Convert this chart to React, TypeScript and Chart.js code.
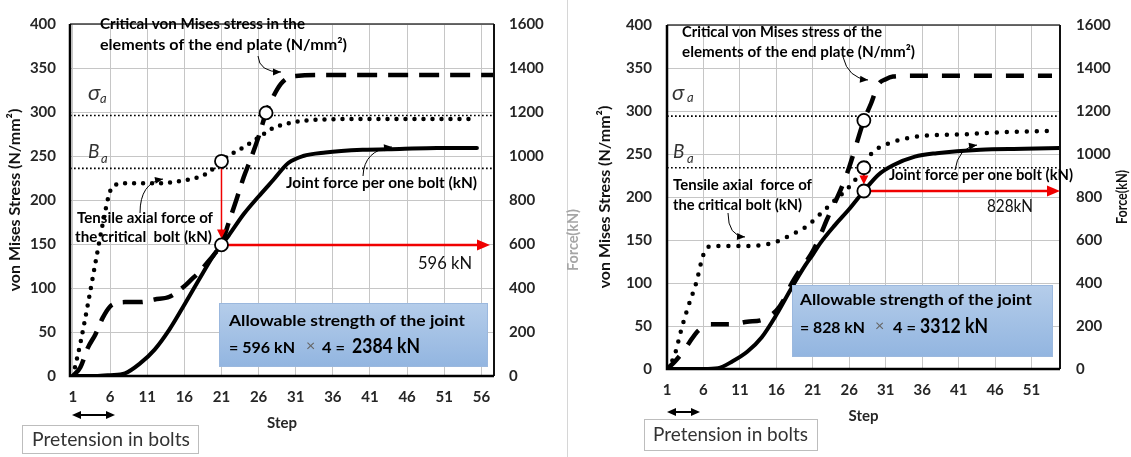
import React, { useEffect, useRef } from 'react';
import { Chart, registerables } from 'chart.js';

Chart.register(...registerables);

const FONT = 'Lato, "Open Sans", sans-serif';

// ---------------- shared axes ----------------
const stressMax = 400;
const stressStep = 50;
const forceMax = 1600;
const forceStep = 200;

// ---------------- LEFT panel data ----------------
const stepTicksL = [1, 6, 11, 16, 21, 26, 31, 36, 41, 46, 51, 56];
// Critical von Mises stress in the elements of the end plate (N/mm2)
const endPlateStepsL = [1, 2, 3, 4, 5, 6, 7, 8, 10, 12, 14, 16, 17, 18, 19, 20, 21, 22, 23, 24, 25, 26, 27, 28, 29, 30, 31, 35, 40, 45, 50, 55, 57.6];
const endPlateStressL = [0, 10, 32, 47, 66, 79, 83, 84, 84, 87, 90, 102, 110, 118, 128, 138, 150, 175, 200, 226, 248, 272, 299, 318, 332, 339, 341, 342, 342, 342, 342, 342, 342];
// Tensile axial force of the critical bolt (kN)
const boltStepsL = [1, 2, 3, 4, 5, 6, 7, 8, 10, 13, 15, 17, 19, 21, 22, 24, 26, 28, 30, 32, 35, 40, 45, 50, 55];
const boltForceL = [0, 150, 325, 510, 690, 840, 872, 876, 876, 876, 884, 896, 920, 976, 1002, 1040, 1084, 1128, 1148, 1160, 1166, 1168, 1168, 1168, 1168];
// Joint force per one bolt (kN)
const jointStepsL = [1, 4, 6, 8, 10, 12, 14, 16, 18, 20, 21, 22, 24, 26, 28, 30, 32, 35, 40, 45, 50, 55.4];
const jointForceL = [0, 0, 4, 12, 56, 120, 212, 324, 440, 552, 596, 640, 736, 816, 892, 968, 1000, 1016, 1028, 1032, 1036, 1036];
const sigmaAL = 296;
const bAL = 236;
const markerStepsL = { endPlate: 27, bolt: 21, joint: 21 };

// ---------------- RIGHT panel data ----------------
const stepTicksR = [1, 6, 11, 16, 21, 26, 31, 36, 41, 46, 51];
const endPlateStepsR = [1, 2, 3, 4, 5, 6, 7, 8, 10, 12, 14, 16, 17, 18, 19, 20, 21, 22, 23, 24, 25, 26, 27, 28, 29, 30, 31, 32, 35, 40, 45, 50, 53.8];
const endPlateStressR = [0, 8, 18, 30, 42, 49, 52, 52, 52, 55, 57, 68, 80, 98, 112, 124, 137, 155, 175, 193, 212, 235, 262, 289, 309, 331, 337, 340, 341, 341, 341, 341, 341];
const boltStepsR = [1, 2, 3, 4, 5, 6, 7, 8, 10, 12, 14, 16, 18, 20, 22, 24, 26, 28, 29, 30, 32, 35, 38, 42, 46, 50, 54];
const boltForceR = [0, 60, 188, 300, 400, 532, 572, 572, 572, 572, 576, 592, 624, 660, 720, 784, 848, 936, 1000, 1028, 1056, 1080, 1088, 1092, 1100, 1104, 1108];
const jointStepsR = [1, 6, 8, 10, 12, 14, 16, 18, 20, 21, 22, 24, 26, 28, 30, 32, 35, 38, 44, 50, 54.9];
const jointForceR = [0, 0, 4, 36, 80, 148, 252, 372, 484, 532, 584, 668, 744, 828, 904, 948, 988, 1004, 1020, 1024, 1028];
const sigmaAR = 294;
const bAR = 234;
const markerStepsR = { endPlate: 28, bolt: 28, joint: 28 };

const pts = (xs: number[], ys: number[]) => xs.map((x, i) => ({ x, y: ys[i] }));

type TextItem = { t: string; x: number; y: number; w?: number; size?: number; bold?: boolean; color?: string; italic?: boolean };

function drawText(ctx: CanvasRenderingContext2D, it: TextItem, baseline: CanvasTextBaseline = 'middle') {
  const size = it.size ?? 15;
  const bold = it.bold ?? true;
  ctx.save();
  ctx.font = `${it.italic ? 'italic ' : ''}${bold ? 'bold ' : ''}${size}px ${FONT}`;
  ctx.fillStyle = it.color ?? '#000';
  ctx.textAlign = 'left';
  ctx.textBaseline = baseline;
  ctx.translate(it.x, it.y);
  if (it.w) {
    const m = ctx.measureText(it.t).width;
    ctx.scale(it.w / m, 1);
  }
  ctx.fillText(it.t, 0, 0);
  ctx.restore();
}

function arrowHead(ctx: CanvasRenderingContext2D, x: number, y: number, ang: number, len: number, hw: number) {
  const c = Math.cos(ang), s = Math.sin(ang);
  ctx.beginPath();
  ctx.moveTo(x, y);
  ctx.lineTo(x - len * c + hw * s, y - len * s - hw * c);
  ctx.lineTo(x - len * c - hw * s, y - len * s + hw * c);
  ctx.closePath();
  ctx.fill();
}

interface Spec {
  width: number;
  xMin: number;
  xMax: number;
  stepTicks: number[];
  endPlate: { x: number; y: number }[];
  bolt: { x: number; y: number }[];
  joint: { x: number; y: number }[];
  sigmaA: number;
  bA: number;
  markers: { endPlate: number; bolt: number; joint: number };
  yAxisW: number;
  y2AxisW: number;
  xAxisH: number;
  stepTitlePad: number;
  yTickPad: number;
  y2TickPad: number;
  dash: number[];
  dot: number[];
  forceTitle: { x: number; y: number; w: number; color: string };
  separatorX?: number;
  texts: TextItem[];
  box: { x: number; y: number; w: number; h: number; line1: TextItem; line2: TextItem[] };
  sigmaLabel: { x: number; y: number; sx: number; sy: number };
  bLabel: { x: number; y: number; sx: number; sy: number };
  curves: { from: number[]; c: number[]; to: number[] }[];
  dbl: { x1: number; x2: number; y: number };
  pre: { x: number; y: number; w: number; h: number; tx: number; ty: number; tw: number };
  hArrowInset: number;
  vArrowWidth: number;
}

function decoPlugin(spec: Spec) {
  return {
    id: 'deco',
    beforeDatasetsDraw(chart: any) {
      const ctx: CanvasRenderingContext2D = chart.ctx;
      ctx.save();
      if (spec.separatorX) {
        ctx.strokeStyle = '#d6d6d6';
        ctx.lineWidth = 1;
        ctx.beginPath();
        ctx.moveTo(spec.separatorX + 0.5, 0);
        ctx.lineTo(spec.separatorX + 0.5, chart.height);
        ctx.stroke();
      }
      ctx.restore();
    },
    afterDatasetsDraw(chart: any) {
      const ctx: CanvasRenderingContext2D = chart.ctx;
      const a = chart.chartArea;
      ctx.save();
      // frame
      ctx.strokeStyle = '#3a3a3a';
      ctx.lineWidth = 1.5;
      ctx.beginPath();
      ctx.moveTo(a.left, a.top);
      ctx.lineTo(a.right, a.top);
      ctx.stroke();
      ctx.strokeStyle = '#111';
      ctx.lineWidth = 2;
      ctx.beginPath();
      ctx.moveTo(a.right, a.top);
      ctx.lineTo(a.right, a.bottom);
      ctx.stroke();
      ctx.strokeStyle = '#000';
      ctx.lineWidth = 2.5;
      ctx.beginPath();
      ctx.moveTo(a.left, a.top);
      ctx.lineTo(a.left, a.bottom);
      ctx.lineTo(a.right, a.bottom);
      ctx.stroke();

      const pos = (dsIdx: number, step: number) => {
        const data = chart.data.datasets[dsIdx].data as { x: number }[];
        const i = data.findIndex((p) => p.x === step);
        const el = chart.getDatasetMeta(dsIdx).data[i];
        return { x: el.x as number, y: el.y as number };
      };
      const pJ = pos(0, spec.markers.joint);
      const pE = pos(1, spec.markers.endPlate);
      const pB = pos(2, spec.markers.bolt);
      const r = 6.5;

      // red arrows
      ctx.strokeStyle = '#f00000';
      ctx.fillStyle = '#f00000';
      ctx.lineWidth = spec.vArrowWidth;
      ctx.beginPath();
      ctx.moveTo(pB.x, pB.y + r);
      ctx.lineTo(pJ.x, pJ.y - r - 6);
      ctx.stroke();
      arrowHead(ctx, pJ.x, pJ.y - r, Math.PI / 2, 9, 4.5);
      ctx.lineWidth = 2.5;
      const tipX = a.right - spec.hArrowInset;
      ctx.beginPath();
      ctx.moveTo(pJ.x + r, pJ.y);
      ctx.lineTo(tipX - 10, pJ.y);
      ctx.stroke();
      arrowHead(ctx, tipX, pJ.y, 0, 13, 5.5);

      // circles
      for (const p of [pJ, pE, pB]) {
        ctx.beginPath();
        ctx.arc(p.x, p.y, r, 0, Math.PI * 2);
        ctx.fillStyle = '#fff';
        ctx.fill();
        ctx.strokeStyle = '#000';
        ctx.lineWidth = 1.8;
        ctx.stroke();
      }

      // σa / Ba labels
      const ital = (t: string, x: number, y: number, size: number) => {
        ctx.font = `italic ${size}px ${FONT}`;
        ctx.fillStyle = '#333';
        ctx.textBaseline = 'alphabetic';
        ctx.textAlign = 'left';
        ctx.fillText(t, x, y);
      };
      ital('σ', spec.sigmaLabel.x, spec.sigmaLabel.y, 22);
      ital('a', spec.sigmaLabel.sx, spec.sigmaLabel.sy, 13);
      ital('B', spec.bLabel.x, spec.bLabel.y, 19);
      ital('a', spec.bLabel.sx, spec.bLabel.sy, 13);

      // annotation texts
      for (const t of spec.texts) drawText(ctx, t);

      // curved leader arrows
      ctx.strokeStyle = '#000';
      ctx.fillStyle = '#000';
      ctx.lineWidth = 1;
      for (const cv of spec.curves) {
        ctx.beginPath();
        ctx.moveTo(cv.from[0], cv.from[1]);
        ctx.quadraticCurveTo(cv.c[0], cv.c[1], cv.to[0], cv.to[1]);
        ctx.stroke();
        const ang = Math.atan2(cv.to[1] - cv.c[1], cv.to[0] - cv.c[0]);
        arrowHead(ctx, cv.to[0], cv.to[1], ang, 8, 3.5);
      }

      // blue box
      const b = spec.box;
      const g = ctx.createLinearGradient(0, b.y, 0, b.y + b.h);
      g.addColorStop(0, '#b5cdea');
      g.addColorStop(1, '#92b5e0');
      ctx.fillStyle = g;
      ctx.fillRect(b.x, b.y, b.w, b.h);
      ctx.strokeStyle = '#9bb8de';
      ctx.lineWidth = 1;
      ctx.strokeRect(b.x + 0.5, b.y + 0.5, b.w - 1, b.h - 1);
      drawText(ctx, b.line1);
      for (const t of b.line2) drawText(ctx, t);

      ctx.restore();
    },
    afterDraw(chart: any) {
      const ctx: CanvasRenderingContext2D = chart.ctx;
      ctx.save();
      // right axis title, reading bottom to top
      const ft = spec.forceTitle;
      ctx.translate(ft.x, ft.y);
      ctx.rotate(-Math.PI / 2);
      ctx.font = `bold 15px ${FONT}`;
      ctx.fillStyle = ft.color;
      ctx.textAlign = 'center';
      ctx.textBaseline = 'middle';
      const m = ctx.measureText('Force(kN)').width;
      ctx.scale(ft.w / m, 1);
      ctx.fillText('Force(kN)', 0, 0);
      ctx.restore();

      ctx.save();
      // double arrow
      const d = spec.dbl;
      ctx.strokeStyle = '#000';
      ctx.fillStyle = '#000';
      ctx.lineWidth = 2;
      ctx.beginPath();
      ctx.moveTo(d.x1 + 6, d.y);
      ctx.lineTo(d.x2 - 6, d.y);
      ctx.stroke();
      arrowHead(ctx, d.x2, d.y, 0, 9, 4);
      arrowHead(ctx, d.x1, d.y, Math.PI, 9, 4);
      // pretension box
      const p = spec.pre;
      ctx.fillStyle = '#fff';
      ctx.fillRect(p.x, p.y, p.w, p.h);
      ctx.strokeStyle = '#bdbdbd';
      ctx.lineWidth = 1;
      ctx.strokeRect(p.x + 0.5, p.y + 0.5, p.w, p.h);
      ctx.restore();
      drawText(ctx, { t: 'Pretension in bolts', x: p.tx, y: p.ty, w: p.tw, size: 19, bold: false, color: '#333' });
    },
  };
}

function buildConfig(spec: Spec): any {
  const tickFont = { family: FONT, size: 15, weight: 'bold' as const };
  const lineBase = { pointRadius: 0, borderColor: '#000', fill: false, cubicInterpolationMode: 'monotone' as const };
  const plain = (v: number) => `${v}`;
  return {
    type: 'line',
    data: {
      datasets: [
        { ...lineBase, label: 'Joint force per one bolt (kN)', data: spec.joint, yAxisID: 'y2', borderWidth: 4, borderCapStyle: 'round' },
        { ...lineBase, label: 'Critical von Mises stress (N/mm²)', data: spec.endPlate, yAxisID: 'y', borderWidth: 4.5, borderDash: spec.dash, borderCapStyle: 'butt' },
        { ...lineBase, label: 'Tensile axial force of the critical bolt (kN)', data: spec.bolt, yAxisID: 'y2', borderWidth: 4.5, borderDash: spec.dot, borderCapStyle: 'round' },
        { ...lineBase, label: 'σa', data: [{ x: spec.xMin, y: spec.sigmaA }, { x: spec.xMax, y: spec.sigmaA }], yAxisID: 'y', borderWidth: 1.7, borderDash: [1.7, 2.3], cubicInterpolationMode: 'default' },
        { ...lineBase, label: 'Ba', data: [{ x: spec.xMin, y: spec.bA }, { x: spec.xMax, y: spec.bA }], yAxisID: 'y', borderWidth: 1.7, borderDash: [1.7, 2.3], cubicInterpolationMode: 'default' },
      ],
    },
    options: {
      animation: false,
      responsive: false,
      maintainAspectRatio: false,
      events: [],
      layout: { padding: { left: 0, right: 0, top: 15, bottom: 0 } },
      plugins: { legend: { display: false }, tooltip: { enabled: false } },
      scales: {
        x: {
          type: 'linear',
          position: 'bottom',
          min: spec.xMin,
          max: spec.xMax,
          afterBuildTicks: (s: any) => {
            s.ticks = spec.stepTicks.map((v) => ({ value: v }));
          },
          afterFit: (s: any) => {
            s.height = spec.xAxisH;
          },
          grid: { color: '#c6c6c6', lineWidth: 1, drawTicks: false },
          border: { display: false },
          ticks: { padding: 12, font: tickFont, color: '#262626', maxRotation: 0, autoSkip: false, callback: plain },
          title: { display: true, text: 'Step', color: '#262626', font: { family: FONT, size: 15, weight: 'bold' }, padding: { top: 0, bottom: spec.stepTitlePad } },
        },
        y: {
          type: 'linear',
          position: 'left',
          min: 0,
          max: stressMax,
          afterFit: (s: any) => {
            s.width = spec.yAxisW;
          },
          grid: { color: '#c6c6c6', lineWidth: 1, drawTicks: false },
          border: { display: false },
          ticks: { stepSize: stressStep, padding: spec.yTickPad, font: tickFont, color: '#262626', callback: plain },
          title: { display: true, text: 'von Mises Stress (N/mm²)', color: '#111', font: { family: FONT, size: 16, weight: 'bold' }, padding: { top: 5, bottom: 0 } },
        },
        y2: {
          type: 'linear',
          position: 'right',
          min: 0,
          max: forceMax,
          afterFit: (s: any) => {
            s.width = spec.y2AxisW;
          },
          grid: { display: false, drawTicks: false },
          border: { display: false },
          ticks: { stepSize: forceStep, padding: spec.y2TickPad, font: tickFont, color: '#262626', callback: plain },
        },
      },
    },
    plugins: [decoPlugin(spec)],
  };
}

const leftSpec: Spec = {
  width: 590,
  xMin: 0.6,
  xMax: 57.7,
  stepTicks: stepTicksL,
  endPlate: pts(endPlateStepsL, endPlateStressL),
  bolt: pts(boltStepsL, boltForceL),
  joint: pts(jointStepsL, jointForceL),
  sigmaA: sigmaAL,
  bA: bAL,
  markers: markerStepsL,
  yAxisW: 70,
  y2AxisW: 96,
  xAxisH: 81,
  stepTitlePad: 25,
  yTickPad: 14,
  y2TickPad: 15,
  dash: [20, 11],
  dot: [0, 9],
  forceTitle: { x: 573, y: 240, w: 62, color: '#a6a6a6' },
  separatorX: 567,
  texts: [
    { t: 'Critical von Mises stress in the', x: 100, y: 24, w: 205 },
    { t: 'elements of the end plate (N/mm²)', x: 100, y: 45, w: 247 },
    { t: 'Tensile axial force of', x: 77, y: 218, w: 136 },
    { t: 'the critical  bolt (kN)', x: 75, y: 237, w: 137 },
    { t: 'Joint force per one bolt (kN)', x: 286, y: 183, w: 191 },
    { t: '596 kN', x: 418, y: 264, w: 54, size: 17, bold: false, color: '#111' },
  ],
  box: {
    x: 219, y: 303, w: 269, h: 64,
    line1: { t: 'Allowable strength of the joint', x: 229, y: 321, w: 236, size: 16 },
    line2: [
      { t: '= 596 kN', x: 229, y: 348, w: 66, size: 16 },
      { t: '×', x: 306, y: 346, size: 16, bold: false, color: '#666' },
      { t: '4 =', x: 322, y: 348, w: 23, size: 16 },
      { t: '2384 kN', x: 352, y: 347, w: 68, size: 20 },
    ],
  },
  sigmaLabel: { x: 88, y: 100, sx: 100, sy: 103 },
  bLabel: { x: 88, y: 158, sx: 101, sy: 163 },
  curves: [
    { from: [258, 56], c: [259, 72], to: [281, 72] },
    { from: [140, 213], c: [140, 183], to: [163, 179] },
    { from: [363, 176], c: [364, 150], to: [392, 147] },
  ],
  dbl: { x1: 72, x2: 115, y: 415 },
  pre: { x: 22, y: 425, w: 176, h: 28, tx: 32, ty: 440, tw: 158 },
  hArrowInset: 4,
  vArrowWidth: 1.5,
};

const rightSpec: Spec = {
  width: 541,
  xMin: 1,
  xMax: 54.9,
  stepTicks: stepTicksR,
  endPlate: pts(endPlateStepsR, endPlateStressR),
  bolt: pts(boltStepsR, boltForceR),
  joint: pts(jointStepsR, jointForceR),
  sigmaA: sigmaAR,
  bA: bAR,
  markers: markerStepsR,
  yAxisW: 77,
  y2AxisW: 71,
  xAxisH: 88,
  stepTitlePad: 32,
  yTickPad: 15,
  y2TickPad: 16,
  dash: [18, 14],
  dot: [0, 10],
  forceTitle: { x: 532, y: 197, w: 54, color: '#111' },
  texts: [
    { t: 'Critical von Mises stress of the', x: 92, y: 32, w: 200 },
    { t: 'elements of the end plate (N/mm²)', x: 92, y: 52, w: 233 },
    { t: 'Tensile axial  force of', x: 83, y: 185, w: 139 },
    { t: 'the critical bolt (kN)', x: 83, y: 205, w: 129 },
    { t: 'Joint force per one bolt (kN)', x: 299, y: 175, w: 184 },
    { t: '828kN', x: 397, y: 207, w: 46, size: 17, bold: false, color: '#111' },
  ],
  box: {
    x: 202, y: 285, w: 261, h: 72,
    line1: { t: 'Allowable strength of the joint', x: 210, y: 300, w: 232, size: 16 },
    line2: [
      { t: '= 828 kN', x: 210, y: 328, w: 65, size: 16 },
      { t: '×', x: 285, y: 326, size: 16, bold: false, color: '#666' },
      { t: '4 =', x: 303, y: 328, w: 23, size: 16 },
      { t: '3312 kN', x: 330, y: 327, w: 68, size: 20 },
    ],
  },
  sigmaLabel: { x: 82, y: 100, sx: 97, sy: 102 },
  bLabel: { x: 83, y: 158, sx: 97, sy: 163 },
  curves: [
    { from: [253, 57], c: [258, 78], to: [278, 80] },
    { from: [138, 213], c: [138, 236], to: [155, 237] },
    { from: [365, 170], c: [368, 148], to: [387, 145] },
  ],
  dbl: { x1: 77, x2: 110, y: 412 },
  pre: { x: 54, y: 419, w: 173, h: 31, tx: 63, ty: 435, tw: 155 },
  hArrowInset: 0,
  vArrowWidth: 2,
};

export default function App() {
  const leftRef = useRef<HTMLCanvasElement>(null);
  const rightRef = useRef<HTMLCanvasElement>(null);
  useEffect(() => {
    const charts = [
      new Chart(leftRef.current as HTMLCanvasElement, buildConfig(leftSpec)),
      new Chart(rightRef.current as HTMLCanvasElement, buildConfig(rightSpec)),
    ];
    return () => charts.forEach((c) => c.destroy());
  }, []);
  return (
    <div style={{ position: 'absolute', left: 0, top: 0, width: 1131, height: 457, background: '#fff', overflow: 'hidden' }}>
      <canvas ref={leftRef} width={590} height={457} style={{ position: 'absolute', left: 0, top: 0, width: 590, height: 457 }} />
      <canvas ref={rightRef} width={541} height={457} style={{ position: 'absolute', left: 590, top: 0, width: 541, height: 457 }} />
    </div>
  );
}
